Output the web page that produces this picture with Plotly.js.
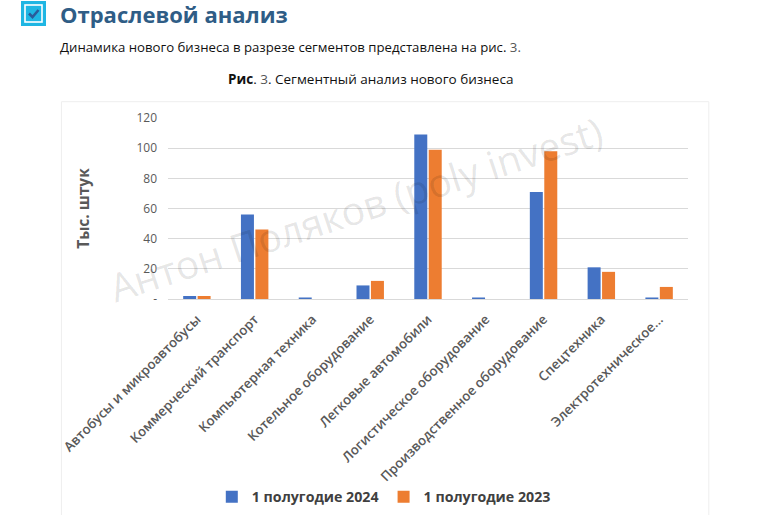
<!DOCTYPE html>
<html><head><meta charset="utf-8">
<script src="https://cdn.plot.ly/plotly-3.0.1.min.js"></script>
<style>
html,body{margin:0;padding:0;background:#fff;width:758px;height:515px;overflow:hidden;font-family:"Open Sans",sans-serif;}
#chart{position:absolute;left:0;top:0;width:758px;height:515px;}
.abs{position:absolute;white-space:nowrap;}
</style></head><body>
<div id="chart"></div>
<svg class="abs" style="left:21px;top:1px" width="25" height="25" viewBox="0 0 25 25">
<rect x="0" y="0" width="25" height="25" fill="#1fb6e3"/>
<rect x="4" y="4" width="17" height="17" fill="none" stroke="#ffffff" stroke-width="1.6"/>
<polyline points="8,12.5 11.5,16 17.5,9" fill="none" stroke="#2a5b9a" stroke-width="2.6"/>
</svg>
<div class="abs" style="left:60px;top:1px;font-size:22px;line-height:26px;font-weight:700;color:#2f5d86;">Отраслевой анализ</div>
<div class="abs" style="left:60px;top:38px;font-size:13.2px;color:#111;">Динамика нового бизнеса в разрезе сегментов представлена на рис. <span style="color:#555">3.</span></div>
<div class="abs" style="left:228px;top:70px;font-size:13.5px;color:#111;"><b>Рис</b>. <span style="color:#555">3</span>. Сегментный анализ нового бизнеса</div>
<script>
const categories = ["Автобусы и микроавтобусы","Коммерческий транспорт","Компьютерная техника","Котельное оборудование","Легковые автомобили","Логистическое оборудование","Производственное оборудование","Спецтехника","Электротехническое..."];
const series2024 = [2, 56, 1, 9, 109, 1, 71, 21, 1];
const series2023 = [2, 46, 0, 12, 99, 0, 98, 18, 8];
const yTickVals = [0, 20, 40, 60, 80, 100, 120];
const yTickText = ["-", "20", "40", "60", "80", "100", "120"];
const seriesNames = ["1 полугодие 2024", "1 полугодие 2023"];

const traces = [
  {type:"bar", x:categories, y:series2024, name:seriesNames[0], marker:{color:"#4472C4"}},
  {type:"bar", x:categories, y:series2023, name:seriesNames[1], marker:{color:"#ED7D31"}}
];
const layout = {
  width:758, height:515,
  margin:{l:168, r:70, t:118, b:216, autoexpand:false},
  paper_bgcolor:"rgba(0,0,0,0)", plot_bgcolor:"rgba(0,0,0,0)",
  font:{family:"Open Sans, sans-serif", color:"#595959"},
  barmode:"group", bargap:0.5, bargroupgap:0.1,
  showlegend:true,
  legend:{orientation:"h", x:0.415, xanchor:"center", y:-1.094, yanchor:"middle",
    font:{size:14.2, color:"#404040", weight:700}, itemwidth:30, traceorder:"normal"},
  xaxis:{tickangle:-45, tickfont:{size:13.3, color:"#595959", weight:600}, showgrid:false,
    showline:false, ticks:"", fixedrange:true, automargin:false, ticklabelstandoff:9},
  yaxis:{range:[0,120], tickvals:yTickVals, ticktext:yTickText, tickfont:{size:12, color:"#595959"},
    gridcolor:"#d9d9d9", gridwidth:1, zeroline:true, zerolinecolor:"#d9d9d9", showline:false,
    ticks:"", ticklen:0, automargin:false, ticklabelstandoff:10,
    title:{text:"Тыс. штук", font:{size:15.5, color:"#595959", weight:700}, standoff:42}},
  shapes:[{type:"rect", xref:"paper", yref:"paper", x0:-0.205, x1:1.04, y0:-1.2, y1:1.09,
    line:{color:"#eeeeee", width:1}}],
  annotations:[{text:"Антон Поляков (poly invest)", xref:"paper", yref:"paper", x:0.36, y:0.5,
    showarrow:false, textangle:-18, font:{size:39, color:"rgba(0,0,0,0.11)", family:"Open Sans, sans-serif"}}]
};
Plotly.newPlot("chart", traces, layout, {displayModeBar:false, staticPlot:true});
</script>
</body></html>
